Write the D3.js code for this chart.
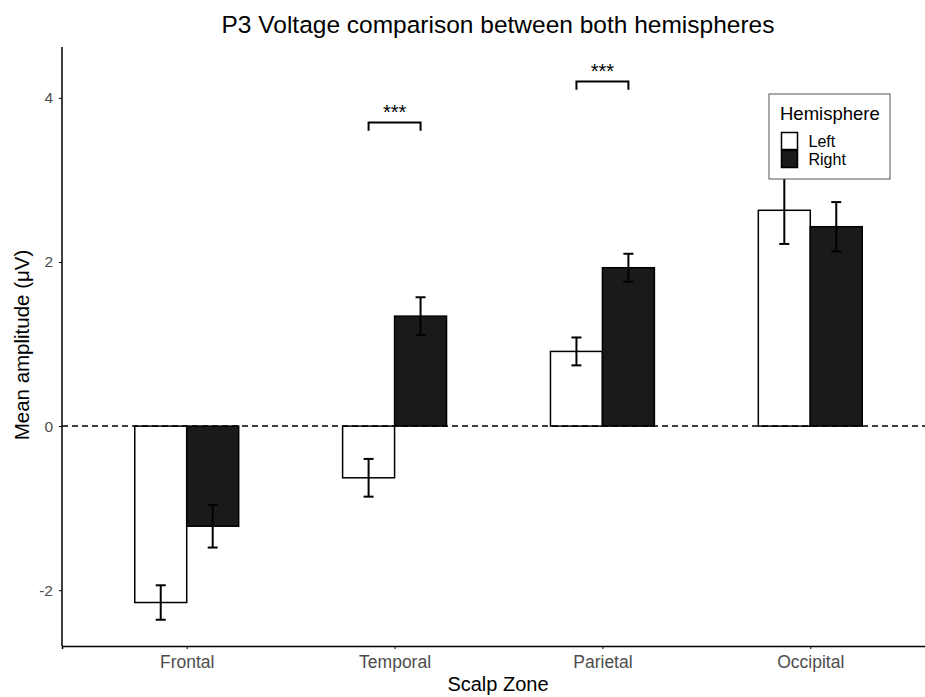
<!DOCTYPE html>
<meta charset="utf-8">
<style>
body { margin: 0; background: #fff; }
text { font-family: "Liberation Sans", Arial, sans-serif; }
.axis text { fill: #4d4d4d; font-size: 17.5px; }
.axis path, .axis line { stroke: #000; }
</style>
<svg width="925" height="697"></svg>
<script src="https://d3js.org/d3.v7.min.js"></script>
<script>

var zones = ["Frontal", "Temporal", "Parietal", "Occipital"];
var hemispheres = ["Left", "Right"];
var leftMeans = [-2.15, -0.63, 0.91, 2.63];
var leftSE = [0.21, 0.23, 0.17, 0.41];
var rightMeans = [-1.22, 1.34, 1.93, 2.43];
var rightSE = [0.26, 0.23, 0.17, 0.30];
var yTicks = [-2, 0, 2, 4];
// significance brackets: zone, height
var sigZones = ["Temporal", "Parietal"];
var sigHeights = [3.7, 4.2];

var svg = d3.select("svg"),
    margin = {top: 47, right: -10, bottom: 51, left: 62},
    width = 925 - margin.left - margin.right,
    height = 697 - margin.top - margin.bottom,
    g = svg.append("g").attr("transform", "translate(" + margin.left + "," + margin.top + ")");

var x = d3.scaleLinear().domain([0.4, 4.6]).range([0, width]),
    y = d3.scaleLinear().domain([-2.68, 4.62]).range([height, 0]);

var color = d3.scaleOrdinal().domain(hemispheres).range(["#ffffff", "#1a1a1a"]);

var data = [];
zones.forEach(function(z, i) {
  data.push({zone: z, i: i, hemi: "Left", mean: leftMeans[i], se: leftSE[i]});
  data.push({zone: z, i: i, hemi: "Right", mean: rightMeans[i], se: rightSE[i]});
});

var bw = 0.25;
function barX(d) { return x(d.i + 1 + (d.hemi == "Left" ? -bw : 0)); }
function midX(d) { return x(d.i + 1 + (d.hemi == "Left" ? -bw / 2 : bw / 2)); }

// bars
g.selectAll(".bar")
  .data(data)
  .enter().append("rect")
    .attr("class", "bar")
    .attr("x", barX)
    .attr("width", x(bw) - x(0))
    .attr("y", function(d) { return y(Math.max(0, d.mean)); })
    .attr("height", function(d) { return Math.abs(y(d.mean) - y(0)); })
    .style("fill", function(d) { return color(d.hemi); })
    .style("stroke", "#000")
    .style("stroke-width", 1.5);

// error bars
var err = g.selectAll(".err")
  .data(data)
  .enter().append("g")
    .attr("class", "err")
    .style("stroke", "#000")
    .style("stroke-width", 2);
err.append("line")
    .attr("x1", midX).attr("x2", midX)
    .attr("y1", function(d) { return y(d.mean + d.se); })
    .attr("y2", function(d) { return y(d.mean - d.se); });
err.append("line")
    .attr("x1", function(d) { return midX(d) - 5; })
    .attr("x2", function(d) { return midX(d) + 5; })
    .attr("y1", function(d) { return y(d.mean + d.se); })
    .attr("y2", function(d) { return y(d.mean + d.se); });
err.append("line")
    .attr("x1", function(d) { return midX(d) - 5; })
    .attr("x2", function(d) { return midX(d) + 5; })
    .attr("y1", function(d) { return y(d.mean - d.se); })
    .attr("y2", function(d) { return y(d.mean - d.se); });

// zero line
g.append("line")
    .attr("x1", 0).attr("x2", width)
    .attr("y1", y(0)).attr("y2", y(0))
    .style("stroke", "#000")
    .style("stroke-width", 1.5)
    .style("stroke-dasharray", "6,4");

// significance brackets
sigZones.forEach(function(z, k) {
  var i = zones.indexOf(z), h = sigHeights[k];
  var x1 = x(i + 1 - bw / 2), x2 = x(i + 1 + bw / 2);
  g.append("path")
      .attr("d", "M" + x1 + "," + y(h - 0.1) + "V" + y(h) + "H" + x2 + "V" + y(h - 0.1))
      .style("fill", "none")
      .style("stroke", "#000")
      .style("stroke-width", 2);
  g.append("text")
      .attr("x", (x1 + x2) / 2)
      .attr("y", y(h) - 3)
      .style("text-anchor", "middle")
      .style("font-size", "20px")
      .text("***");
});

// axes
g.append("g")
    .attr("class", "axis")
    .attr("transform", "translate(0," + height + ")")
    .call(d3.axisBottom(x).tickValues([1, 2, 3, 4]).tickFormat(function(d) { return zones[d - 1]; })
      .tickSize(3).tickPadding(7))
    .call(function(a) { a.select(".domain").style("stroke-width", 1.5); });

g.append("g")
    .attr("class", "axis")
    .call(d3.axisLeft(y).tickValues(yTicks).tickSize(3).tickPadding(6)
      .tickFormat(function(d) { return String(d); }))
    .call(function(a) {
      a.select(".domain").attr("d", "M0," + height + "V0").style("stroke-width", 1.5);
      a.selectAll("text").style("font-size", "15.5px");
    });

// titles
svg.append("text")
    .attr("x", 498)
    .attr("y", 33)
    .style("text-anchor", "middle")
    .style("font-size", "24.5px")
    .text("P3 Voltage comparison between both hemispheres");

svg.append("text")
    .attr("x", 498)
    .attr("y", 691)
    .style("text-anchor", "middle")
    .style("font-size", "20px")
    .text("Scalp Zone");

svg.append("text")
    .attr("transform", "rotate(-90)")
    .attr("x", -345)
    .attr("y", 29)
    .style("text-anchor", "middle")
    .style("font-size", "20.5px")
    .text("Mean amplitude (\u03bcV)");

// legend
var legend = svg.append("g").attr("transform", "translate(769,94)");
legend.append("rect")
    .attr("width", 121).attr("height", 85)
    .style("fill", "#fff")
    .style("stroke", "#555")
    .style("stroke-width", 1);
legend.append("text")
    .attr("x", 11).attr("y", 26)
    .style("font-size", "18.5px")
    .text("Hemisphere");
var item = legend.selectAll(".item")
  .data(hemispheres)
  .enter().append("g")
    .attr("class", "item")
    .attr("transform", function(d, i) { return "translate(12.5," + (38.5 + i * 18) + ")"; });
item.append("rect")
    .attr("width", 16).attr("height", 17)
    .style("fill", function(d) { return color(d); })
    .style("stroke", "#000")
    .style("stroke-width", 1.5);
item.append("text")
    .attr("x", 27).attr("y", 14)
    .style("font-size", "16px")
    .text(function(d) { return d; });

</script>
